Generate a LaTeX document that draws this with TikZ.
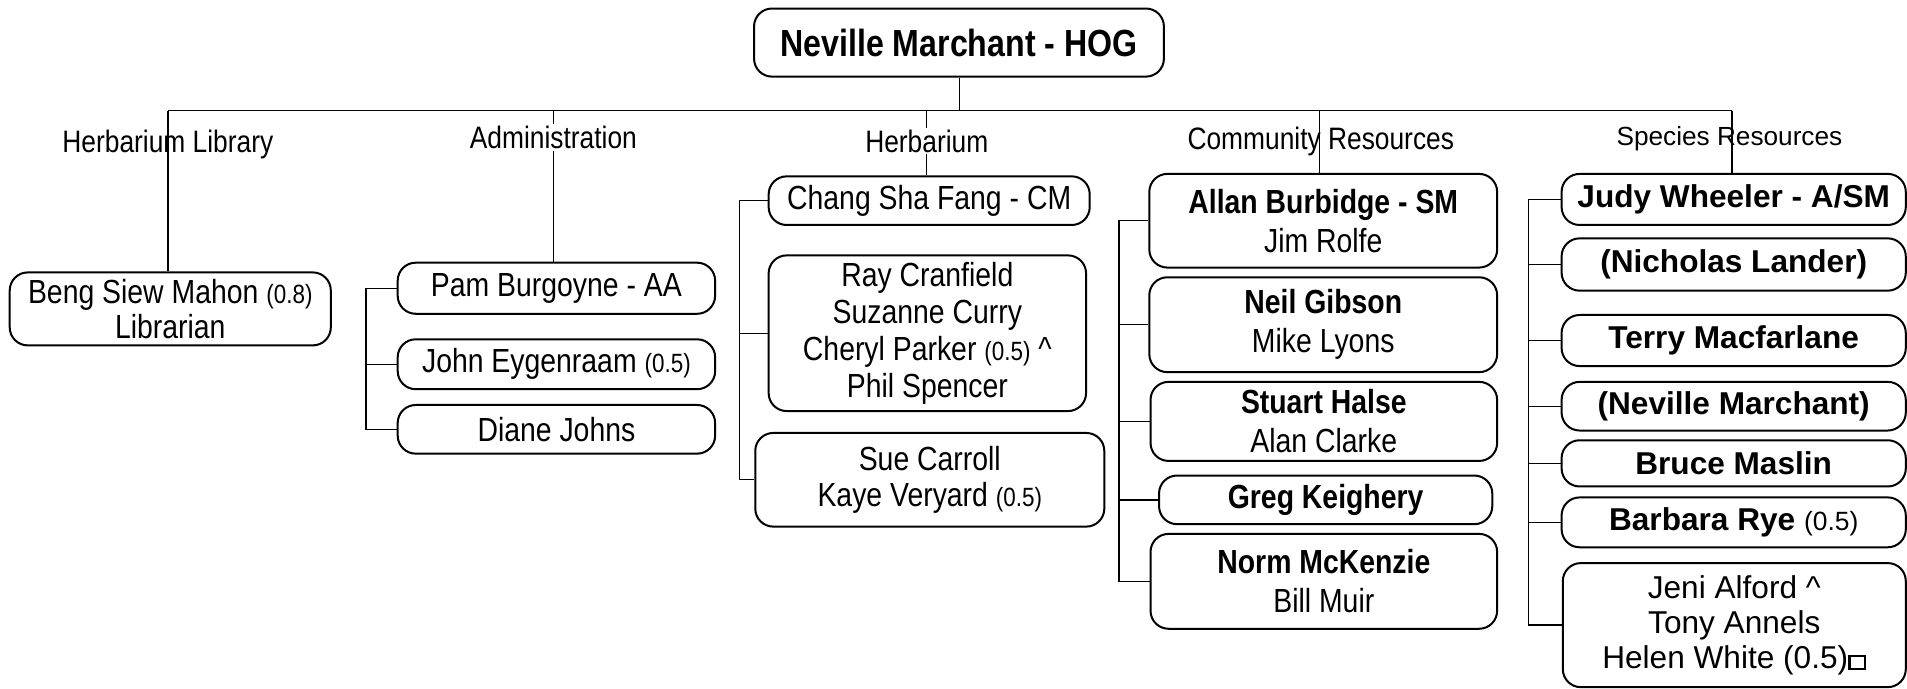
\documentclass[tikz,border=0pt]{standalone}
\usepackage{fontspec}
\setmainfont{Liberation Sans}
\newfontfamily\nar[FakeStretch=0.85]{Liberation Sans}
\newcommand{\fnm}{\nar\fontsize{16.7}{18.4}\selectfont}
\newcommand{\fnmb}{\nar\fontsize{16.7}{19.5}\selectfont}
\newcommand{\fsp}{\fontsize{15.8}{17.6}\selectfont}
\newcommand{\smq}[1]{{\fontsize{13.2}{15}\selectfont #1}}
\newcommand{\sqbox}{\raisebox{0.02em}{\setlength{\fboxsep}{0pt}\setlength{\fboxrule}{1.2pt}\fbox{\rule{0pt}{0.34em}\hspace{0.42em}}}}
\newcommand{\bx}[7]{%
  \pgfmathsetmacro{\bw}{(#4-#2)*0.6081}%
  \pgfmathsetmacro{\bh}{(#5-#3)*0.6081}%
  \node[box, minimum width=\bw pt, minimum height=\bh pt, font=#6] (#1) at ({(#2+#4)/2},{(#3+#5)/2}) {#7};}
\tikzset{
  box/.style={draw, line width=1pt, rounded corners=9pt, inner sep=0pt, align=center},
  lab/.style={inner sep=1pt, align=center, font=\nar\fontsize{15.5}{17}\selectfont},
  wire/.style={line width=0.7pt},
}
\begin{document}
\begin{tikzpicture}[x=0.6081pt, y=-0.6081pt]
\fill[white] (0,0) rectangle (1568,566);
\useasboundingbox (0,0) rectangle (1568,566);
% top
\bx{top}{620}{7}{957}{63}{\nar\fontsize{18.9}{22}\selectfont\bfseries}{Neville Marchant - HOG}
% Herbarium Library
\bx{beng}{8}{224}{272}{284}{\nar\fontsize{16.7}{17.2}\selectfont}{Beng Siew Mahon \smq{(0.8)}\\Librarian}
% Administration
\bx{pam}{327}{216}{588}{258}{\fnm}{Pam Burgoyne - AA}
\bx{john}{327}{279}{588}{320}{\fnm}{John Eygenraam \smq{(0.5)}}
\bx{diane}{327}{333}{588}{373}{\fnm}{Diane Johns}
% Herbarium
\bx{chang}{632}{145}{896}{185}{\fnm}{Chang Sha Fang - CM}
\bx{ray}{632}{210}{893}{338}{\fnm}{Ray Cranfield\\Suzanne Curry\\Cheryl Parker \smq{(0.5)} \textasciicircum\\Phil Spencer}
\bx{sue}{621}{356}{908}{433}{\fnm}{Sue Carroll\\Kaye Veryard \smq{(0.5)}}
% Community Resources
\bx{allan}{945}{143}{1231}{220}{\fnmb}{\textbf{Allan Burbidge - SM}\\Jim Rolfe}
\bx{neil}{945}{228}{1231}{306}{\fnmb}{\textbf{Neil Gibson}\\Mike Lyons}
\bx{stuart}{946}{314}{1231}{379}{\fnmb}{\textbf{Stuart Halse}\\Alan Clarke}
\bx{greg}{953}{391}{1227}{431}{\fnmb}{\textbf{Greg Keighery}}
\bx{norm}{946}{439}{1231}{517}{\fnmb}{\textbf{Norm McKenzie}\\Bill Muir}
% Species Resources
\bx{judy}{1284}{143}{1567}{185}{\fsp\bfseries}{Judy Wheeler - A/SM}
\bx{nich}{1284}{196}{1567}{239}{\fsp\bfseries}{(Nicholas Lander)}
\bx{terry}{1284}{259}{1567}{301}{\fsp\bfseries}{Terry Macfarlane}
\bx{nev}{1284}{314}{1567}{354}{\fsp\bfseries}{(Neville Marchant)}
\bx{bruce}{1284}{362}{1567}{400}{\fsp\bfseries}{Bruce Maslin}
\bx{barb}{1284}{409}{1567}{450}{\fsp}{\textbf{Barbara Rye} {\fontsize{13.2}{15}\selectfont(0.5)}}
\bx{jeni}{1285}{463}{1567}{565}{\fsp}{Jeni Alford \textasciicircum\\Tony Annels\\Helen White (0.5)\sqbox}
% bus
\coordinate (jt) at (789,91);
\coordinate (j1) at (138,91);
\coordinate (j2) at (455,91);
\coordinate (j3) at (762,91);
\coordinate (j4) at (1085,91);
\coordinate (j5) at (1424,91);
\draw[wire] (j1) -- (j5);
\draw[wire] (top.south -| jt) -- (jt);
\draw[wire] (j1) -- (j1 |- beng.north);
\draw[wire] (j2) -- (j2 |- pam.north);
\draw[wire] (j3) -- (j3 |- chang.north);
\draw[wire] (j4) -- (j4 |- allan.north);
\draw[wire] (j5) -- (j5 |- judy.north);
% brackets
\coordinate (ka) at (301,0);
\draw[wire] (pam.west) -- (pam.west -| ka) -- (diane.west -| ka) -- (diane.west);
\draw[wire] (john.west) -- (john.west -| ka);
\coordinate (kb) at (608,0);
\draw[wire] (chang.west) -- (chang.west -| kb) -- (sue.west -| kb) -- (sue.west);
\draw[wire] (ray.west) -- (ray.west -| kb);
\coordinate (kc) at (920,0);
\draw[wire] (allan.west) -- (allan.west -| kc) -- (norm.west -| kc) -- (norm.west);
\foreach \n in {neil,stuart,greg} \draw[wire] (\n.west) -- (\n.west -| kc);
\coordinate (kd) at (1257,0);
\draw[wire] (judy.west) -- (judy.west -| kd) -- (jeni.west -| kd) -- (jeni.west);
\foreach \n in {nich,terry,nev,bruce,barb} \draw[wire] (\n.west) -- (\n.west -| kd);
% labels
\node[lab] (l1) at (138,119) {Herbarium Library};
\node[lab, fill=white] (l2) at (455,113) {Administration};
\node[lab, fill=white] (l3) at (762,116) {Herbarium};
\node[lab] (l4) at (1086,116) {Community Resources};
\node[lab, font=\fontsize{13.1}{15}\selectfont] (l5) at (1422,114) {Species Resources};
\end{tikzpicture}
\end{document}
